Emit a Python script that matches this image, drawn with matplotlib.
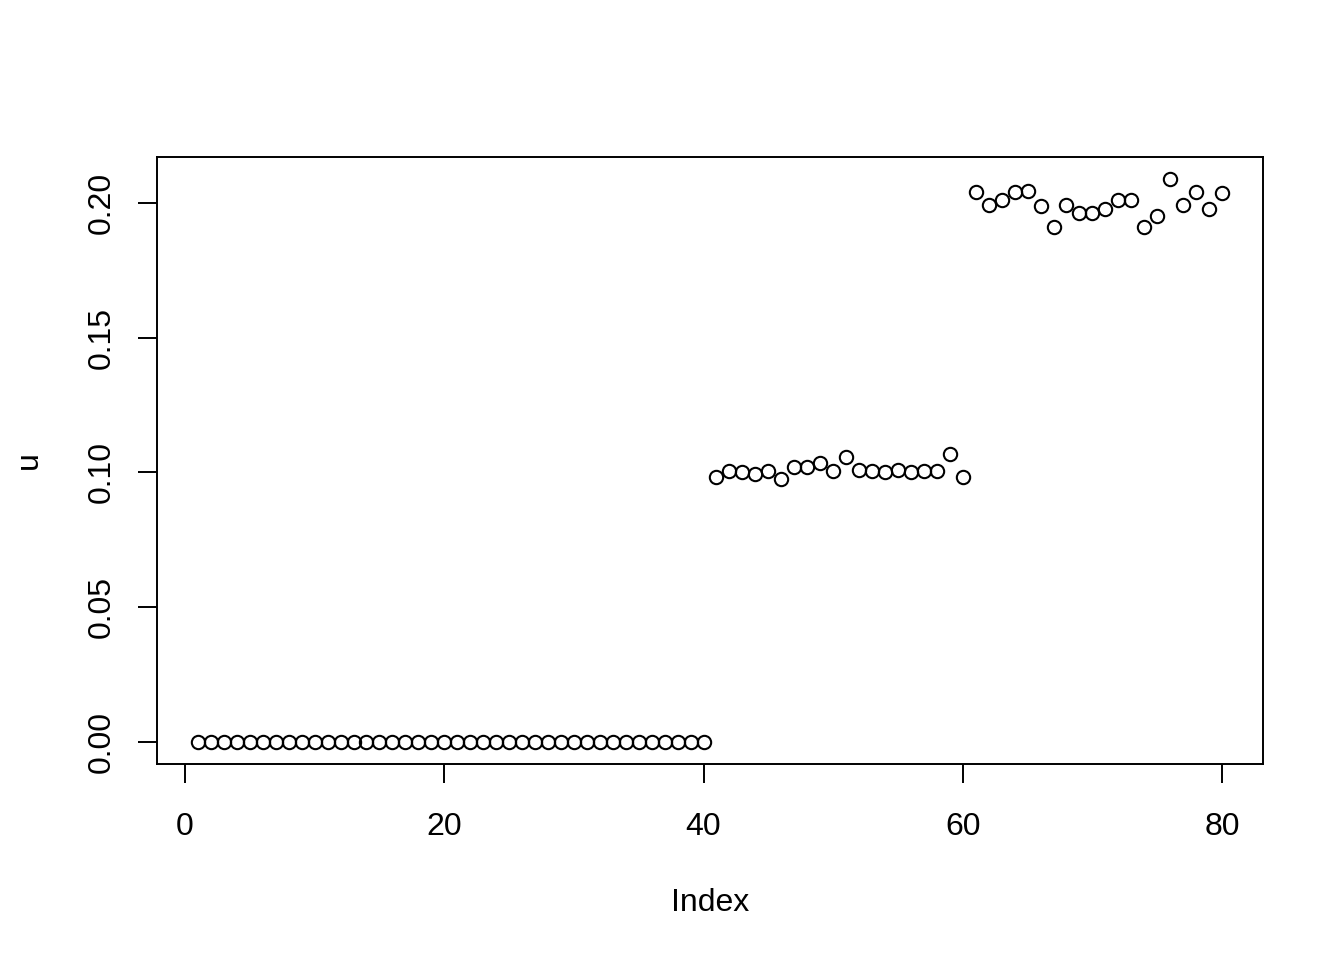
import numpy as np
import matplotlib
matplotlib.use('Agg')
import matplotlib.pyplot as plt

# u values (index 1..80)
u_zero = [0.0] * 40
u_mid = [0.0985, 0.1007, 0.1000, 0.0996, 0.1007, 0.0974, 0.1019, 0.1019, 0.1037, 0.1004,
         0.1056, 0.1011, 0.1004, 0.1000, 0.1011, 0.1000, 0.1007, 0.1007, 0.1067, 0.0985]
u_high = [0.2041, 0.1996, 0.2011, 0.2041, 0.2045, 0.1989, 0.1914, 0.1993, 0.1963, 0.1963,
          0.1978, 0.2011, 0.2011, 0.1911, 0.1955, 0.2089, 0.1996, 0.2041, 0.1978, 0.2037]
u = u_zero + u_mid + u_high
index = np.arange(1, len(u) + 1)

xticks = [0, 20, 40, 60, 80]
yticks = [0.00, 0.05, 0.10, 0.15, 0.20]

plt.rcParams['font.family'] = ['Liberation Sans', 'DejaVu Sans']

fig = plt.figure(figsize=(13.44, 9.6), dpi=100)
ax = fig.add_axes([157 / 1344, 1 - 764 / 960, 1106 / 1344, 607 / 960])

ax.plot(index, u, linestyle='none', marker='o', markersize=9.6,
        markerfacecolor='none', markeredgecolor='black', markeredgewidth=1.5)

# R style 4% padding
xr = index.max() - index.min()
ax.set_xlim(index.min() - 0.04 * xr, index.max() + 0.04 * xr)
yr = max(u) - min(u)
ax.set_ylim(min(u) - 0.04 * yr, max(u) + 0.04 * yr)

ax.set_xticks(xticks)
ax.set_xticklabels([str(t) for t in xticks])
ax.set_yticks(yticks)
ax.set_yticklabels([f'{t:.2f}' for t in yticks], rotation=90, va='center')

for s in ax.spines.values():
    s.set_linewidth(1.4)
ax.tick_params(axis='both', length=13.7, width=1.4, labelsize=23)
ax.tick_params(axis='x', pad=21)
ax.tick_params(axis='y', pad=15)

ax.set_xlabel('Index', fontsize=23)
ax.set_ylabel('u', fontsize=23)
ax.xaxis.set_label_coords(0.5, -0.205)
ax.yaxis.set_label_coords(-0.102, 0.5)

fig.savefig('out.png', dpi=100)
